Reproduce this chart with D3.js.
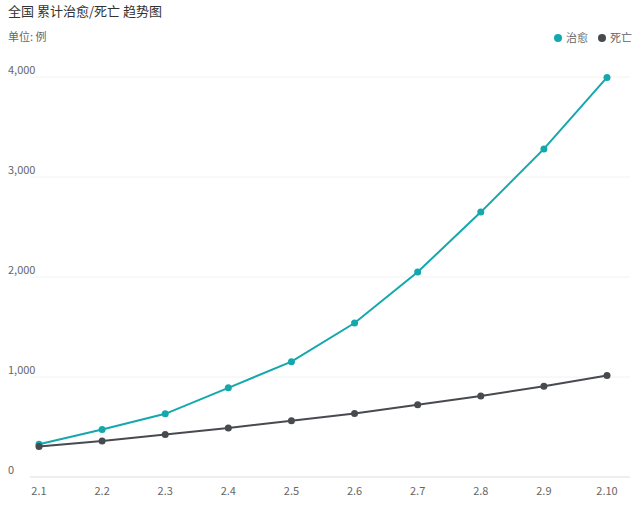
<!DOCTYPE html>
<html><head><meta charset="utf-8">
<script src="https://cdn.jsdelivr.net/npm/d3@7.9.0/dist/d3.min.js"></script>
<style>
body{margin:0;background:#fff;font-family:"Noto Sans CJK SC","Noto Sans",sans-serif;}
</style></head><body>
<svg id="chart" width="640" height="509"></svg>
<script>
const dates = ['2.1','2.2','2.3','2.4','2.5','2.6','2.7','2.8','2.9','2.10'];
const cured = [328, 475, 632, 892, 1153, 1540, 2050, 2649, 3281, 3996];
const deaths = [304, 361, 425, 490, 563, 636, 722, 811, 908, 1016];
const yTicks = [0, 1000, 2000, 3000, 4000];
const seriesNames = ['治愈', '死亡'];
const colors = ['#14a8ad', '#474a4f'];

const svg = d3.select('#chart');
const x = d3.scalePoint().domain(dates).range([39, 607]);
const y = d3.scaleLinear().domain([0, 4000]).range([477, 77]);

svg.append('text').attr('x', 8).attr('y', 16).attr('font-size', 13).attr('fill', '#333')
  .text('全国 累计治愈/死亡 趋势图');
svg.append('text').attr('x', 8).attr('y', 41).attr('font-size', 11).attr('fill', '#666')
  .text('单位: 例');

// grid + y labels
yTicks.forEach(t => {
  svg.append('line').attr('x1', 30).attr('x2', 630).attr('y1', y(t)).attr('y2', y(t))
    .attr('stroke', t === 0 ? '#ddd' : '#f2f2f2');
  svg.append('text').attr('x', 8).attr('y', y(t) - 3).attr('font-size', 11).attr('fill', '#666')
    .text(d3.format(',')(t));
});

// x labels
dates.forEach(d => {
  svg.append('text').attr('x', x(d)).attr('y', 495).attr('text-anchor', 'middle')
    .attr('font-size', 11).attr('fill', '#666').text(d);
});

const line = d3.line().x((d, i) => x(dates[i])).y(d => y(d));
[cured, deaths].forEach((s, k) => {
  svg.append('path').attr('d', line(s)).attr('fill', 'none')
    .attr('stroke', colors[k]).attr('stroke-width', 2);
  svg.selectAll(null).data(s).enter().append('circle')
    .attr('cx', (d, i) => x(dates[i])).attr('cy', d => y(d)).attr('r', 3.5)
    .attr('fill', colors[k]);
});

// legend
const lx = [558, 602];
seriesNames.forEach((n, k) => {
  svg.append('circle').attr('cx', lx[k]).attr('cy', 38).attr('r', 4).attr('fill', colors[k]);
  svg.append('text').attr('x', lx[k] + 8).attr('y', 42).attr('font-size', 11).attr('fill', '#666').text(n);
});
</script></body></html>
